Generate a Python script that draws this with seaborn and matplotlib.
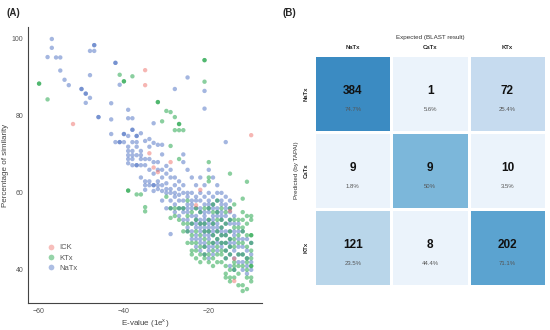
import numpy as np
import pandas as pd
import matplotlib
matplotlib.use('Agg')
import matplotlib.pyplot as plt
import seaborn as sns

# ---- panel A data: (E-value exponent, % similarity) ----
natx_x = ([-57, -57, -58, -56, -55, -55, -54, -53, -50, -50, -49, -49, -49, -48, -48, -48,
           -47, -47, -47, -46, -46, -43, -43, -43, -42, -42, -42, -41, -41, -41, -40, -40, -40]
          + [-39] * 8 + [-38] * 8 + [-37] * 7 + [-36] * 6 + [-35] * 6 + [-34] * 6 + [-33] * 7
          + [-32] * 6 + [-31] * 7 + [-30] * 6 + [-29] * 7 + [-28] * 7 + [-27] * 6 + [-26] * 8
          + [-25] * 10 + [-24] * 9 + [-23] * 11 + [-22] * 12 + [-21] * 15 + [-20] * 15
          + [-19] * 13 + [-18] * 12 + [-17] * 11 + [-16] * 11 + [-15] * 11 + [-14] * 8
          + [-13] * 6 + [-12] * 6 + [-11] * 5 + [-10] * 4)
natx_y = [100, 97.7, 95.3, 95.2, 95.2, 91.8, 89.4, 88, 87, 87, 85.8, 85.8, 83.4, 84.7, 96.9, 90.6,
          98.4, 98.4, 96.9, 79.7, 79.7, 83.3, 79.1, 75.3, 93.8, 93.8, 73.2, 88.1, 73.2, 73.2, 75.3, 75.3, 73.2,
          81.6, 79.4, 74.8, 72, 70.9, 69.8, 68.8, 67.7,
          79.4, 76.4, 76.4, 73.2, 70.9, 69.8, 68.8, 67.2,
          74.8, 74.8, 73.2, 72, 69.8, 67.2, 67.2,
          75.5, 70.9, 69.8, 68.8, 67.2, 64,
          73.5, 68.8, 67.2, 63, 62, 60.8,
          74, 72, 68.8, 66, 63, 62,
          78.1, 73, 68, 65, 62, 62, 60.5,
          72.5, 68, 66, 63, 62, 61,
          72.5, 70, 66, 64, 62, 60.5, 58,
          67, 65, 62.5, 61, 60, 56,
          66, 64, 61, 60, 58, 56, 49.3,
          87, 64, 62, 60, 59, 57, 55,
          63, 61, 59.5, 58, 56, 54,
          70, 68, 62, 60, 58, 56, 55, 53,
          90, 66, 60, 59, 57, 56, 55, 53, 51, 50,
          64, 60, 58, 57, 56, 54, 52, 50, 48,
          62, 59, 58, 56, 54, 53, 52, 51, 49, 48, 46,
          64, 60, 58, 56, 55, 53, 52, 51, 50, 48, 47, 45,
          86.5, 81.9, 62, 59, 57, 55, 54, 53, 52, 51, 50, 49, 47, 46, 44,
          66, 60, 58, 57, 56, 55, 53, 52, 51, 50, 49, 48, 46, 45, 43,
          64, 59, 57, 56, 54, 53, 52, 51, 50, 49, 47, 46, 44,
          62, 60, 58, 56, 55, 54, 52, 51, 50, 48, 47, 45,
          60, 58, 57, 55, 54, 53, 51, 50, 49, 47, 46,
          73.2, 59, 57, 56, 54, 52, 50, 49, 47, 45, 43,
          58, 56, 55, 53, 52, 50, 48, 47, 46, 44, 41,
          54, 52, 50, 49, 47, 45, 43, 40,
          52, 50, 48, 46, 44, 42,
          50, 48, 46, 44, 42, 40,
          48, 45, 43, 41, 39,
          47, 44, 42, 40]

ktx_x = ([-60, -60, -58, -41, -40, -40, -38, -39, -39, -37, -36, -35, -35, -32, -32, -31, -30, -30]
         + [-29] * 4 + [-28] * 4 + [-27] * 6 + [-26] * 4 + [-25] * 5 + [-24] * 6 + [-23] * 6
         + [-22] * 6 + [-21] * 10 + [-20] * 9 + [-19] * 8 + [-18] * 8 + [-17] * 8 + [-16] * 9
         + [-15] * 10 + [-14] * 9 + [-13] * 8 + [-12] * 10 + [-11] * 10 + [-10] * 11)
ktx_y = [88.4, 88.4, 84.3, 90.7, 89, 89, 90.3, 60.6, 60.6, 59.6, 59.6, 56.3, 55.2, 83.6, 83.6, 78.6, 81.3, 59,
         81, 72.2, 56, 53.5,
         79.7, 76.3, 56, 54,
         77.9, 77.9, 76.3, 68.8, 56, 53,
         76.3, 56, 52, 50,
         58, 54, 52, 50, 47,
         55, 52, 49, 47, 45, 44,
         56, 53, 50, 47, 45, 43,
         55, 52, 49, 46, 44, 42,
         94.5, 94.5, 88.9, 56, 52, 50, 48, 46, 44, 43,
         68, 64, 63, 56, 53, 50, 47, 44, 42,
         57, 55, 52, 49, 47, 45, 43, 41,
         58, 55, 53, 50, 48, 46, 44, 42,
         56, 53, 51, 49, 47, 45, 44, 42,
         55, 52, 49, 47, 45, 43, 41, 39, 38,
         65, 56, 53, 50, 48, 46, 44, 40, 38, 37,
         57, 53, 51, 48, 46, 42, 41, 40, 38,
         53, 51, 49, 47, 44, 41, 39, 36,
         58.5, 55, 53, 51, 50, 47, 44, 41, 36, 34.5,
         62.9, 54, 52, 49, 46, 43, 42, 40, 38, 35,
         54, 53, 49, 49, 47, 45, 43, 41, 41, 38, 37]

ick_x = [-52, -35, -35, -34, -33, -32, -29, -22, -23, -15, -14, -14, -10]
ick_y = [77.9, 91.9, 88, 70.3, 66.6, 65.4, 68, 60.8, 56.8, 55.3, 42.9, 37.1, 75]

classes = ['ICK', 'KTx', 'NaTx']
class_colors = ['#EE6F68', '#17A040', '#4A6FC2']

# ---- panel B data: confusion matrix ----
expected_labels = ['NaTx', 'CaTx', 'KTx']
predicted_labels = ['NaTx', 'CaTx', 'KTx']
counts = np.array([[384, 1, 72],
                   [9, 9, 10],
                   [121, 8, 202]])
percents = ['74.7%', '5.6%', '25.4%',
            '1.8%', '50%', '3.5%',
            '23.5%', '44.4%', '71.1%']
# cell shading as seen in the figure (0..1 on the Blues scale)
cell_shade = np.array([[0.65, 0.06, 0.25],
                       [0.06, 0.46, 0.06],
                       [0.29, 0.06, 0.55]])

df = pd.DataFrame({
    'evalue': natx_x + ktx_x + ick_x,
    'similarity': natx_y + ktx_y + ick_y,
    'type': ['NaTx'] * len(natx_x) + ['KTx'] * len(ktx_x) + ['ICK'] * len(ick_x),
})

sns.set_style('white')
plt.rcParams['font.family'] = ['Liberation Sans', 'DejaVu Sans']

fig = plt.figure(figsize=(5.5, 3.3), dpi=100)

# ==========================================
# (A) scatter
# ==========================================
ax1 = fig.add_axes([0.051, 0.082, 0.425, 0.836])
sns.scatterplot(data=df, x='evalue', y='similarity', hue='type', hue_order=classes,
                palette=class_colors, s=10, alpha=0.5, linewidth=0, ax=ax1)
ax1.set_xlim(-62.6, -7.5)
ax1.set_ylim(31.4, 103.1)
ax1.set_xticks([-60, -40, -20])
ax1.set_yticks([40, 60, 80, 100])
ax1.set_xlabel('E-value (1e$^{\\mathregular{x}}$)', fontsize=5.8, color='#444444', labelpad=2)
ax1.set_ylabel('Percentage of similarity', fontsize=5.8, color='#444444', labelpad=2)
ax1.tick_params(labelsize=5, colors='#555555', length=2, width=0.6, pad=1.5)
for side in ['top', 'right']:
    ax1.spines[side].set_visible(False)
for side in ['left', 'bottom']:
    ax1.spines[side].set_color('#444444')
    ax1.spines[side].set_linewidth(0.8)
leg = ax1.legend(loc='lower left', bbox_to_anchor=(0.05, 0.1), frameon=False, fontsize=5.5,
                 handletextpad=0.1, labelspacing=0.35, borderpad=0, markerscale=1.3)
for t in leg.get_texts():
    t.set_color('#555555')
for h in leg.legend_handles:
    h.set_alpha(0.45)

# ==========================================
# (B) confusion matrix heatmap
# ==========================================
ax2 = fig.add_axes([0.571, 0.133, 0.422, 0.70])
sns.heatmap(cell_shade, cmap='Blues', vmin=0, vmax=1, cbar=False, linewidths=0.8,
            linecolor='white', xticklabels=expected_labels, yticklabels=predicted_labels, ax=ax2)
ax2.xaxis.tick_top()
ax2.xaxis.set_label_position('top')
ax2.tick_params(length=0, labelsize=4.3, pad=4)
for lab in ax2.get_xticklabels() + ax2.get_yticklabels():
    lab.set_fontweight('bold')
plt.setp(ax2.get_yticklabels(), rotation=90, va='center')
ax2.set_xlabel('Expected (BLAST result)', fontsize=4.5, color='#333333', labelpad=4)
ax2.set_ylabel('Predicted (by TAPAI)', fontsize=4.5, color='#333333', labelpad=3)

for i in range(3):
    for j in range(3):
        ax2.text(j + 0.5, i + 0.47, str(counts[i, j]), ha='center', va='center',
                 fontsize=8.5, fontweight='bold', color='#111111')
        ax2.text(j + 0.5, i + 0.71, percents[i * 3 + j], ha='center', va='center',
                 fontsize=4.3, color='#555555')

fig.text(0.012, 0.962, '(A)', fontsize=7, fontweight='bold', va='center')
fig.text(0.514, 0.962, '(B)', fontsize=7, fontweight='bold', va='center')

fig.savefig('out.png', dpi=100)
